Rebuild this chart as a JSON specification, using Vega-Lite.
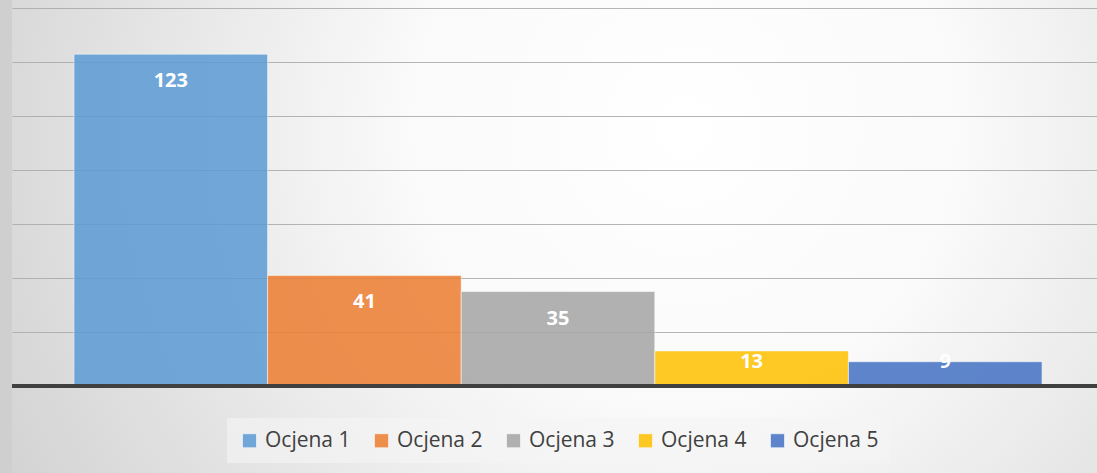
{
  "$schema": "https://vega.github.io/schema/vega-lite/v6.json",
  "width": 1085,
  "height": 473,
  "padding": {"left": 12, "top": 0, "right": 0, "bottom": 0},
  "autosize": {"type": "none"},
  "background": "#cfcfcf",
  "view": {
    "stroke": null,
    "fill": {
      "gradient": "radial",
      "x1": 0.62, "y1": 0.4, "r1": 0,
      "x2": 0.62, "y2": 0.4, "r2": 0.85,
      "stops": [
        {"offset": 0, "color": "#ffffff"},
        {"offset": 0.3, "color": "#fafafa"},
        {"offset": 1, "color": "#c6c6c6"}
      ]
    }
  },
  "config": {"font": "Open Sans"},
  "data": {
    "values": [
      {"label": "Ocjena 1", "value": 123},
      {"label": "Ocjena 2", "value": 41},
      {"label": "Ocjena 3", "value": 35},
      {"label": "Ocjena 4", "value": 13},
      {"label": "Ocjena 5", "value": 9}
    ]
  },
  "encoding": {
    "x": {
      "field": "label",
      "type": "nominal",
      "sort": null,
      "scale": {"paddingInner": 0, "paddingOuter": 0.302, "align": 0.53},
      "axis": null
    }
  },
  "layer": [
    {
      "mark": {"type": "bar", "opacity": 0.85, "stroke": "#ffffff", "strokeOpacity": 0.55, "strokeWidth": 1},
      "encoding": {
        "y": {
          "field": "value",
          "type": "quantitative",
          "scale": {"domain": [-32.25, 143.07], "nice": false, "zero": false},
          "axis": {
            "values": [20, 40, 60, 80, 100, 120, 140],
            "grid": true,
            "gridColor": "#a8a8a8",
            "gridOpacity": 0.85,
            "gridWidth": 1,
            "labels": false,
            "ticks": false,
            "domain": false,
            "title": null
          }
        },
        "color": {
          "field": "label",
          "type": "nominal",
          "scale": {
            "domain": ["Ocjena 1", "Ocjena 2", "Ocjena 3", "Ocjena 4", "Ocjena 5"],
            "range": ["#5B9BD5", "#ED7D31", "#A5A5A5", "#FFC000", "#4472C4"]
          },
          "legend": {
            "title": null,
            "orient": "none",
            "legendX": 215,
            "legendY": 418,
            "direction": "horizontal",
            "columns": 5,
            "symbolType": "square",
            "symbolSize": 196,
            "symbolStrokeColor": "#ffffff",
            "symbolStrokeWidth": 0.6,
            "labelFont": "Open Sans",
            "labelFontSize": 21,
            "labelColor": "#404040",
            "labelOffset": 5,
            "columnPadding": 20,
            "padding": 12,
            "fillColor": "rgba(245,245,245,0.6)"
          }
        }
      }
    },
    {
      "mark": {
        "type": "text",
        "font": "Open Sans",
        "fontWeight": "bold",
        "fontSize": 20,
        "color": "#ffffff",
        "baseline": "middle",
        "align": "center",
        "y": {"expr": "scale('y', max(datum.value, 19)) + 27"}
      },
      "encoding": {
        "text": {"field": "value", "type": "quantitative"}
      }
    },
    {
      "data": {"values": [{"base": 0}]},
      "mark": {"type": "rule", "color": "#404040", "strokeWidth": 4},
      "encoding": {"x": null, "y": {"field": "base", "type": "quantitative"}}
    }
  ]
}
